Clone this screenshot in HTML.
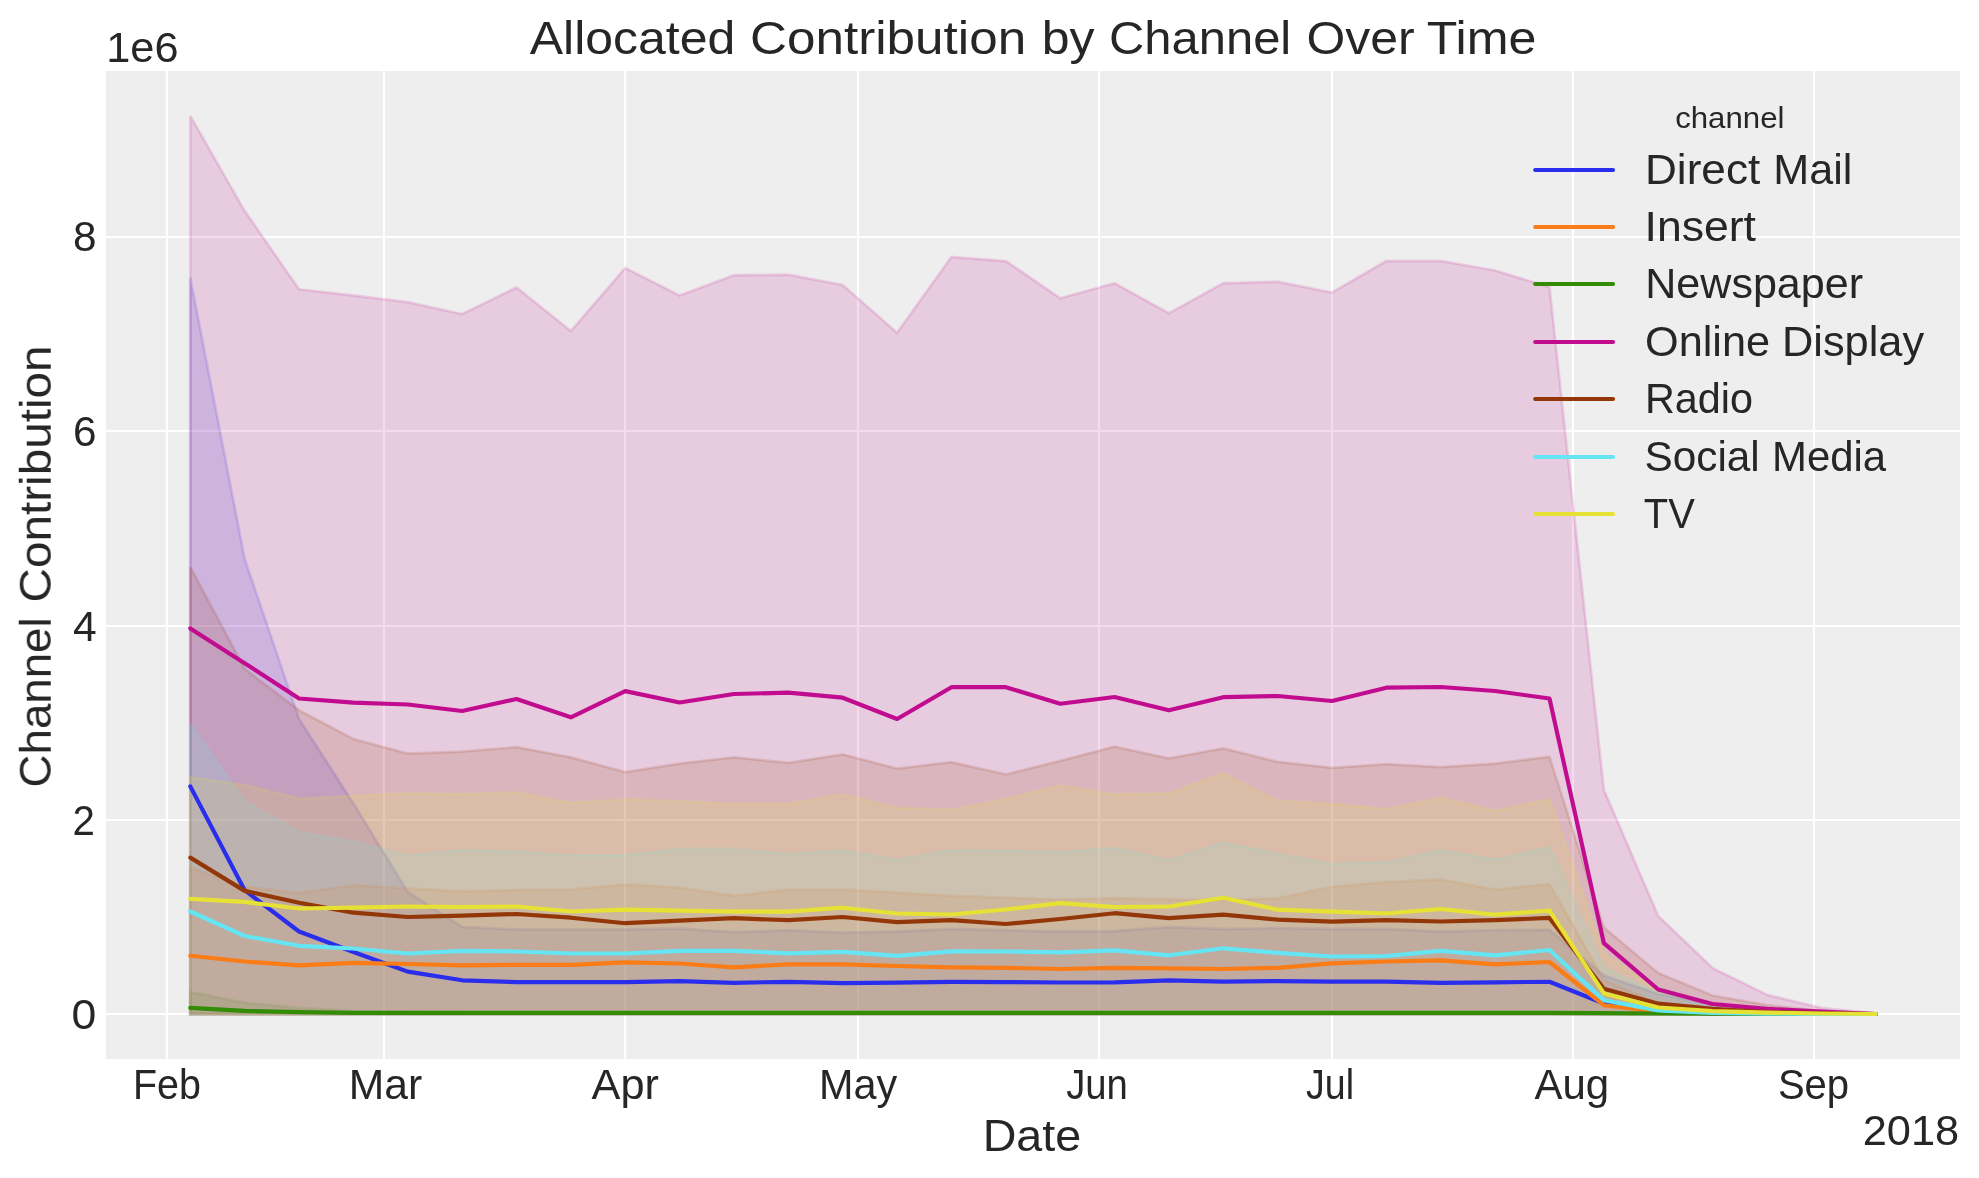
<!DOCTYPE html>
<html lang="en"><head><meta charset="utf-8"><title>Allocated Contribution by Channel Over Time</title>
<style>html,body{margin:0;padding:0;background:#ffffff;width:1979px;height:1178px}svg{display:block}text{font-family:"Liberation Sans",sans-serif;fill:#262626}.g line{stroke:#ffffff;stroke-width:2.22}.b polygon{fill-opacity:0.15;stroke-opacity:0.15;stroke-width:2.78;stroke-linejoin:miter;stroke-miterlimit:2}.l polyline,.h line{fill:none;stroke-width:4.17;stroke-linecap:round;stroke-linejoin:round}</style></head><body>
<svg width="1979" height="1178" viewBox="0 0 1979 1178">
<defs><clipPath id="c"><rect x="106" y="71" width="1854" height="988"/></clipPath></defs>
<rect x="106" y="71" width="1854" height="988" fill="#eeeeee"/>
<g class="g">
<line x1="167" y1="71" x2="167" y2="1059"/>
<line x1="384" y1="71" x2="384" y2="1059"/>
<line x1="625" y1="71" x2="625" y2="1059"/>
<line x1="858" y1="71" x2="858" y2="1059"/>
<line x1="1099" y1="71" x2="1099" y2="1059"/>
<line x1="1332" y1="71" x2="1332" y2="1059"/>
<line x1="1573" y1="71" x2="1573" y2="1059"/>
<line x1="1814" y1="71" x2="1814" y2="1059"/>
<line x1="106" y1="1014" x2="1960" y2="1014"/>
<line x1="106" y1="820" x2="1960" y2="820"/>
<line x1="106" y1="626" x2="1960" y2="626"/>
<line x1="106" y1="431" x2="1960" y2="431"/>
<line x1="106" y1="237" x2="1960" y2="237"/>
</g>
<g class="b" clip-path="url(#c)">
<polygon fill="#2a2eec" stroke="#2a2eec" points="190.3,277.7 244.67,558.8 299.04,719 353.4,803.2 407.77,891.9 462.14,927 516.51,929.5 570.87,929.5 625.24,929.5 679.61,928.5 733.98,932.2 788.35,930.2 842.71,932.7 897.08,931.5 951.45,929 1005.82,930.2 1060.18,931.5 1114.55,931 1168.92,927 1223.29,929 1277.65,928.2 1332.02,929 1386.39,929 1440.76,931.5 1495.13,930.2 1549.49,929.8 1603.86,975.4 1658.23,994 1712.6,1004.5 1766.96,1010 1821.33,1012.5 1875.7,1013.8 1875.7,1014.1 1821.33,1014.1 1766.96,1014.1 1712.6,1014.1 1658.23,1014.1 1603.86,1014.1 1549.49,1014.1 1495.13,1014.1 1440.76,1014.1 1386.39,1014.1 1332.02,1014.1 1277.65,1014.1 1223.29,1014.1 1168.92,1014.1 1114.55,1014.1 1060.18,1014.1 1005.82,1014.1 951.45,1014.1 897.08,1014.1 842.71,1014.1 788.35,1014.1 733.98,1014.1 679.61,1014.1 625.24,1014.1 570.87,1014.1 516.51,1014.1 462.14,1014.1 407.77,1014.1 353.4,1014.1 299.04,1014.1 244.67,1014.1 190.3,1014.1"/>
<polygon fill="#fa7c17" stroke="#fa7c17" points="190.3,867.6 244.67,886.4 299.04,893.2 353.4,885.2 407.77,888.4 462.14,891.4 516.51,890.2 570.87,889.7 625.24,884.4 679.61,887.7 733.98,895.9 788.35,889.7 842.71,889.7 897.08,892.7 951.45,895.9 1005.82,897.7 1060.18,899.7 1114.55,898.2 1168.92,899.4 1223.29,900.2 1277.65,898.4 1332.02,886.9 1386.39,882.2 1440.76,879.4 1495.13,889.7 1549.49,884 1603.86,980 1658.23,1003 1712.6,1010 1766.96,1012.5 1821.33,1013.5 1875.7,1014 1875.7,1014.1 1821.33,1014.1 1766.96,1014.1 1712.6,1014.1 1658.23,1014.1 1603.86,1014.1 1549.49,1014.1 1495.13,1014.1 1440.76,1014.1 1386.39,1014.1 1332.02,1014.1 1277.65,1014.1 1223.29,1014.1 1168.92,1014.1 1114.55,1014.1 1060.18,1014.1 1005.82,1014.1 951.45,1014.1 897.08,1014.1 842.71,1014.1 788.35,1014.1 733.98,1014.1 679.61,1014.1 625.24,1014.1 570.87,1014.1 516.51,1014.1 462.14,1014.1 407.77,1014.1 353.4,1014.1 299.04,1014.1 244.67,1014.1 190.3,1014.1"/>
<polygon fill="#328c06" stroke="#328c06" points="190.3,992.1 244.67,1002.8 299.04,1007.9 353.4,1010.9 407.77,1012 462.14,1012.5 516.51,1012.5 570.87,1012.5 625.24,1012.5 679.61,1012.5 733.98,1012.5 788.35,1012.5 842.71,1012.5 897.08,1012.5 951.45,1012.5 1005.82,1012.5 1060.18,1012.5 1114.55,1012.5 1168.92,1012.5 1223.29,1012.5 1277.65,1012.5 1332.02,1012.5 1386.39,1012.5 1440.76,1012.5 1495.13,1012.5 1549.49,1012.5 1603.86,1013.2 1658.23,1013.5 1712.6,1013.7 1766.96,1013.9 1821.33,1014 1875.7,1014 1875.7,1014.1 1821.33,1014.1 1766.96,1014.1 1712.6,1014.1 1658.23,1014.1 1603.86,1014.1 1549.49,1014.1 1495.13,1014.1 1440.76,1014.1 1386.39,1014.1 1332.02,1014.1 1277.65,1014.1 1223.29,1014.1 1168.92,1014.1 1114.55,1014.1 1060.18,1014.1 1005.82,1014.1 951.45,1014.1 897.08,1014.1 842.71,1014.1 788.35,1014.1 733.98,1014.1 679.61,1014.1 625.24,1014.1 570.87,1014.1 516.51,1014.1 462.14,1014.1 407.77,1014.1 353.4,1014.1 299.04,1014.1 244.67,1014.1 190.3,1014.1"/>
<polygon fill="#c10c90" stroke="#c10c90" points="190.3,115.9 244.67,210.9 299.04,289.3 353.4,295.5 407.77,302.2 462.14,314 516.51,287.5 570.87,331 625.24,267.9 679.61,295.5 733.98,275.25 788.35,274.75 842.71,285 897.08,332.75 951.45,257 1005.82,261 1060.18,298.25 1114.55,283.25 1168.92,313.25 1223.29,283.25 1277.65,281.75 1332.02,292.5 1386.39,261 1440.76,261 1495.13,270.5 1549.49,287.2 1603.86,789.8 1658.23,916 1712.6,968 1766.96,994.8 1821.33,1007.9 1875.7,1013.5 1875.7,1014.1 1821.33,1014.1 1766.96,1014.1 1712.6,1014.1 1658.23,1014.1 1603.86,1014.1 1549.49,1014.1 1495.13,1014.1 1440.76,1014.1 1386.39,1014.1 1332.02,1014.1 1277.65,1014.1 1223.29,1014.1 1168.92,1014.1 1114.55,1014.1 1060.18,1014.1 1005.82,1014.1 951.45,1014.1 897.08,1014.1 842.71,1014.1 788.35,1014.1 733.98,1014.1 679.61,1014.1 625.24,1014.1 570.87,1014.1 516.51,1014.1 462.14,1014.1 407.77,1014.1 353.4,1014.1 299.04,1014.1 244.67,1014.1 190.3,1014.1"/>
<polygon fill="#933708" stroke="#933708" points="190.3,567 244.67,668.9 299.04,710.3 353.4,739 407.77,753.6 462.14,751.6 516.51,747.1 570.87,757.3 625.24,772.1 679.61,763.6 733.98,757.3 788.35,762.8 842.71,754.3 897.08,768.6 951.45,762.1 1005.82,774.4 1060.18,760.8 1114.55,746.6 1168.92,758.3 1223.29,748.3 1277.65,761.8 1332.02,767.8 1386.39,764.1 1440.76,767.1 1495.13,763.6 1549.49,756.8 1603.86,927.5 1658.23,973 1712.6,995.5 1766.96,1005.1 1821.33,1011 1875.7,1013.5 1875.7,1014.1 1821.33,1014.1 1766.96,1014.1 1712.6,1014.1 1658.23,1014.1 1603.86,1014.1 1549.49,1014.1 1495.13,1014.1 1440.76,1014.1 1386.39,1014.1 1332.02,1014.1 1277.65,1014.1 1223.29,1014.1 1168.92,1014.1 1114.55,1014.1 1060.18,1014.1 1005.82,1014.1 951.45,1014.1 897.08,1014.1 842.71,1014.1 788.35,1014.1 733.98,1014.1 679.61,1014.1 625.24,1014.1 570.87,1014.1 516.51,1014.1 462.14,1014.1 407.77,1014.1 353.4,1014.1 299.04,1014.1 244.67,1014.1 190.3,1014.1"/>
<polygon fill="#65e5f3" stroke="#65e5f3" points="190.3,724 244.67,801.4 299.04,832.2 353.4,841.4 407.77,855.6 462.14,850.1 516.51,851.4 570.87,855.1 625.24,855.3 679.61,848.9 733.98,848.9 788.35,853.9 842.71,850.6 897.08,859.6 951.45,850.1 1005.82,850.6 1060.18,852.1 1114.55,848.1 1168.92,860.1 1223.29,842.6 1277.65,853.9 1332.02,863.9 1386.39,862.1 1440.76,850.1 1495.13,859.6 1549.49,847 1603.86,967.8 1658.23,993.5 1712.6,1006 1766.96,1011 1821.33,1013 1875.7,1014 1875.7,1014.1 1821.33,1014.1 1766.96,1014.1 1712.6,1014.1 1658.23,1014.1 1603.86,1014.1 1549.49,1014.1 1495.13,1014.1 1440.76,1014.1 1386.39,1014.1 1332.02,1014.1 1277.65,1014.1 1223.29,1014.1 1168.92,1014.1 1114.55,1014.1 1060.18,1014.1 1005.82,1014.1 951.45,1014.1 897.08,1014.1 842.71,1014.1 788.35,1014.1 733.98,1014.1 679.61,1014.1 625.24,1014.1 570.87,1014.1 516.51,1014.1 462.14,1014.1 407.77,1014.1 353.4,1014.1 299.04,1014.1 244.67,1014.1 190.3,1014.1"/>
<polygon fill="#e6e135" stroke="#e6e135" points="190.3,777 244.67,785.2 299.04,798.7 353.4,795.9 407.77,793.4 462.14,794.1 516.51,792.4 570.87,802.9 625.24,799.2 679.61,801.5 733.98,804 788.35,803.7 842.71,794.5 897.08,807.8 951.45,809.8 1005.82,799 1060.18,785.5 1114.55,794.4 1168.92,793.3 1223.29,773.2 1277.65,800.7 1332.02,804 1386.39,809 1440.76,797.7 1495.13,810.6 1549.49,799.6 1603.86,953.5 1658.23,990.5 1712.6,1004 1766.96,1010 1821.33,1012.5 1875.7,1013.8 1875.7,1014.1 1821.33,1014.1 1766.96,1014.1 1712.6,1014.1 1658.23,1014.1 1603.86,1014.1 1549.49,1014.1 1495.13,1014.1 1440.76,1014.1 1386.39,1014.1 1332.02,1014.1 1277.65,1014.1 1223.29,1014.1 1168.92,1014.1 1114.55,1014.1 1060.18,1014.1 1005.82,1014.1 951.45,1014.1 897.08,1014.1 842.71,1014.1 788.35,1014.1 733.98,1014.1 679.61,1014.1 625.24,1014.1 570.87,1014.1 516.51,1014.1 462.14,1014.1 407.77,1014.1 353.4,1014.1 299.04,1014.1 244.67,1014.1 190.3,1014.1"/>
</g>
<g class="l" clip-path="url(#c)">
<polyline stroke="#2a2eec" points="190.3,786.4 244.67,890.2 299.04,931.5 353.4,952 407.77,971.6 462.14,980.3 516.51,982.1 570.87,982.1 625.24,982.1 679.61,981.1 733.98,982.8 788.35,981.8 842.71,983.1 897.08,982.6 951.45,981.8 1005.82,982.1 1060.18,982.5 1114.55,982.3 1168.92,980.3 1223.29,981.6 1277.65,981.1 1332.02,981.6 1386.39,981.6 1440.76,982.8 1495.13,982.3 1549.49,981.8 1603.86,1003.5 1658.23,1011.3 1712.6,1013.3 1766.96,1013.8 1821.33,1014 1875.7,1014"/>
<polyline stroke="#fa7c17" points="190.3,955.8 244.67,961.5 299.04,965.3 353.4,962.8 407.77,964 462.14,965.3 516.51,964.8 570.87,964.8 625.24,962.3 679.61,963.5 733.98,967.3 788.35,964.3 842.71,964.3 897.08,966 951.45,967.3 1005.82,967.8 1060.18,969 1114.55,967.8 1168.92,968.3 1223.29,969 1277.65,967.8 1332.02,963.3 1386.39,961.5 1440.76,960.3 1495.13,964.3 1549.49,962 1603.86,1005.2 1658.23,1011.6 1712.6,1013.3 1766.96,1013.8 1821.33,1014 1875.7,1014"/>
<polyline stroke="#328c06" points="190.3,1007.9 244.67,1010.9 299.04,1012.1 353.4,1012.9 407.77,1012.9 462.14,1012.9 516.51,1012.9 570.87,1012.9 625.24,1012.9 679.61,1012.9 733.98,1012.9 788.35,1012.9 842.71,1012.9 897.08,1012.9 951.45,1012.9 1005.82,1012.9 1060.18,1012.9 1114.55,1012.9 1168.92,1012.9 1223.29,1012.9 1277.65,1012.9 1332.02,1012.9 1386.39,1012.9 1440.76,1012.9 1495.13,1012.9 1549.49,1012.9 1603.86,1013.2 1658.23,1013.5 1712.6,1013.7 1766.96,1013.9 1821.33,1014 1875.7,1014"/>
<polyline stroke="#c10c90" points="190.3,628.4 244.67,663.2 299.04,698.5 353.4,702.7 407.77,704.5 462.14,711 516.51,699 570.87,717.3 625.24,691.1 679.61,702.5 733.98,694 788.35,692.7 842.71,697.7 897.08,719 951.45,687.2 1005.82,687.2 1060.18,703.7 1114.55,697 1168.92,710.3 1223.29,697.2 1277.65,696 1332.02,701 1386.39,687.7 1440.76,687 1495.13,691 1549.49,698.5 1603.86,943.2 1658.23,989.5 1712.6,1004 1766.96,1008.8 1821.33,1011.6 1875.7,1014"/>
<polyline stroke="#933708" points="190.3,857.6 244.67,890.9 299.04,902.7 353.4,912.7 407.77,917 462.14,915.7 516.51,914 570.87,917.7 625.24,923.2 679.61,920.7 733.98,918.2 788.35,920.2 842.71,917 897.08,922.2 951.45,920.2 1005.82,924 1060.18,919 1114.55,913.2 1168.92,918.2 1223.29,914.7 1277.65,919.7 1332.02,921.7 1386.39,920.2 1440.76,921.5 1495.13,920.2 1549.49,917.9 1603.86,988.8 1658.23,1003.7 1712.6,1008.8 1766.96,1012 1821.33,1013 1875.7,1014"/>
<polyline stroke="#65e5f3" points="190.3,911.5 244.67,936 299.04,945.8 353.4,948.5 407.77,953.5 462.14,950.8 516.51,951.5 570.87,953.5 625.24,953.5 679.61,950.8 733.98,950.8 788.35,953.3 842.71,951.8 897.08,955.8 951.45,951.3 1005.82,951.5 1060.18,952.3 1114.55,950.3 1168.92,955.3 1223.29,948.3 1277.65,952.8 1332.02,956.5 1386.39,956 1440.76,950.8 1495.13,955.3 1549.49,950 1603.86,1000.2 1658.23,1010.4 1712.6,1013 1766.96,1013.7 1821.33,1014 1875.7,1014"/>
<polyline stroke="#e6e135" points="190.3,898.9 244.67,901.9 299.04,908.5 353.4,907.7 407.77,906.5 462.14,907 516.51,906.5 570.87,911.5 625.24,909.6 679.61,910.7 733.98,911.7 788.35,911.7 842.71,907.7 897.08,913.5 951.45,914.5 1005.82,909.5 1060.18,903.1 1114.55,907 1168.92,906.5 1223.29,897.7 1277.65,909.7 1332.02,911.7 1386.39,913.5 1440.76,909 1495.13,914.7 1549.49,910.6 1603.86,993.4 1658.23,1007.5 1712.6,1011.1 1766.96,1012.6 1821.33,1013.5 1875.7,1014"/>
</g>
<g class="h">
<line stroke="#2a2eec" x1="1535.2" y1="170" x2="1613" y2="170"/>
<line stroke="#fa7c17" x1="1535.2" y1="227" x2="1613" y2="227"/>
<line stroke="#328c06" x1="1535.2" y1="284" x2="1613" y2="284"/>
<line stroke="#c10c90" x1="1535.2" y1="342" x2="1613" y2="342"/>
<line stroke="#933708" x1="1535.2" y1="399" x2="1613" y2="399"/>
<line stroke="#65e5f3" x1="1535.2" y1="457" x2="1613" y2="457"/>
<line stroke="#e6e135" x1="1535.2" y1="514" x2="1613" y2="514"/>
</g>
<g opacity="0.999">
<text y="53.65" font-size="46.66"><tspan x="529.75" textLength="205.58" lengthAdjust="spacingAndGlyphs">Allocated</tspan> <tspan x="750" textLength="276.14" lengthAdjust="spacingAndGlyphs">Contribution</tspan> <tspan x="1041.75" textLength="52.86" lengthAdjust="spacingAndGlyphs">by</tspan> <tspan x="1109" textLength="182.21" lengthAdjust="spacingAndGlyphs">Channel</tspan> <tspan x="1306.5" textLength="108.13" lengthAdjust="spacingAndGlyphs">Over</tspan> <tspan x="1426.75" textLength="109.62" lengthAdjust="spacingAndGlyphs">Time</tspan></text>
<text x="106.25" y="62" font-size="42.2" textLength="72.24" lengthAdjust="spacingAndGlyphs">1e6</text>
<text transform="translate(50.75 0) rotate(-90)" font-size="43.75"><tspan x="-787.5" y="0" textLength="170.16" lengthAdjust="spacingAndGlyphs">Channel</tspan> <tspan x="-602.5" y="0" textLength="257.1" lengthAdjust="spacingAndGlyphs">Contribution</tspan></text>
<text x="982.7" y="1151.3" font-size="44.2" textLength="98.53" lengthAdjust="spacingAndGlyphs">Date</text>
<text x="1862.65" y="1144.8" font-size="42.2" textLength="96.51" lengthAdjust="spacingAndGlyphs">2018</text>
<text x="133" y="1099.1" font-size="41.6" textLength="67.94" lengthAdjust="spacingAndGlyphs">Feb</text>
<text x="348.8" y="1099.1" font-size="41.6" textLength="73.4" lengthAdjust="spacingAndGlyphs">Mar</text>
<text x="591.6" y="1099.1" font-size="41.6" textLength="67.3" lengthAdjust="spacingAndGlyphs">Apr</text>
<text x="819.1" y="1099.1" font-size="41.6" textLength="78.19" lengthAdjust="spacingAndGlyphs">May</text>
<text x="1066.2" y="1099.1" font-size="41.6" textLength="61.66" lengthAdjust="spacingAndGlyphs">Jun</text>
<text x="1306.1" y="1099.1" font-size="41.6" textLength="47.99" lengthAdjust="spacingAndGlyphs">Jul</text>
<text x="1534.4" y="1099.1" font-size="41.6" textLength="74.75" lengthAdjust="spacingAndGlyphs">Aug</text>
<text x="1777.9" y="1099.1" font-size="41.6" textLength="71.18" lengthAdjust="spacingAndGlyphs">Sep</text>
<text x="71.5" y="1029.4" font-size="42.2" textLength="24.8" lengthAdjust="spacingAndGlyphs">0</text>
<text x="72.5" y="835.06" font-size="42.2" textLength="22.39" lengthAdjust="spacingAndGlyphs">2</text>
<text x="73" y="640.72" font-size="42.2" textLength="23.67" lengthAdjust="spacingAndGlyphs">4</text>
<text x="73" y="445.63" font-size="42.2" textLength="23.56" lengthAdjust="spacingAndGlyphs">6</text>
<text x="73" y="251.04" font-size="42.2" textLength="23.56" lengthAdjust="spacingAndGlyphs">8</text>
<text x="1675.15" y="128" font-size="28.9" textLength="109.32" lengthAdjust="spacingAndGlyphs">channel</text>
<text y="184" font-size="41.6"><tspan x="1645" textLength="115.2" lengthAdjust="spacingAndGlyphs">Direct</tspan> <tspan x="1773.25" textLength="79.12" lengthAdjust="spacingAndGlyphs">Mail</tspan></text>
<text x="1644.5" y="241" font-size="41.6" textLength="111.5" lengthAdjust="spacingAndGlyphs">Insert</text>
<text x="1645.25" y="298" font-size="41.6" textLength="217.81" lengthAdjust="spacingAndGlyphs">Newspaper</text>
<text y="356" font-size="41.6"><tspan x="1645" textLength="125.14" lengthAdjust="spacingAndGlyphs">Online</tspan> <tspan x="1782" textLength="142.12" lengthAdjust="spacingAndGlyphs">Display</tspan></text>
<text x="1645" y="413" font-size="41.6" textLength="108.04" lengthAdjust="spacingAndGlyphs">Radio</text>
<text y="471" font-size="41.6"><tspan x="1644.5" textLength="115.24" lengthAdjust="spacingAndGlyphs">Social</tspan> <tspan x="1772" textLength="114.15" lengthAdjust="spacingAndGlyphs">Media</tspan></text>
<text x="1643.75" y="528" font-size="41.6" textLength="51.01" lengthAdjust="spacingAndGlyphs">TV</text>
</g></svg></body></html>
